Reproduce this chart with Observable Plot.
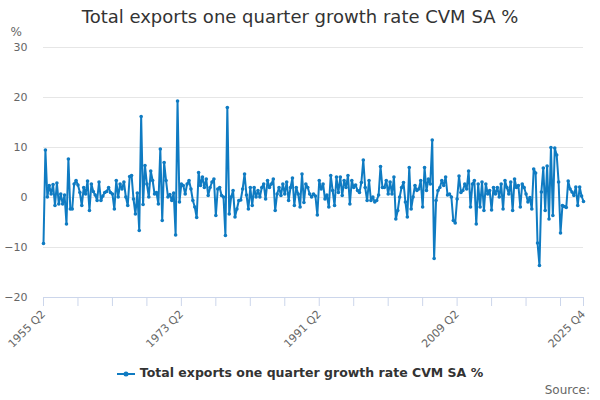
<!DOCTYPE html>
<html>
<head>
<meta charset="utf-8">
<script src="https://cdn.jsdelivr.net/npm/d3@7"></script>
<script src="https://cdn.jsdelivr.net/npm/@observablehq/plot@0.6"></script>
<style>
  html, body { margin: 0; padding: 0; background: #fff; }
  body { width: 600px; height: 400px; overflow: hidden; font-family: "DejaVu Sans", sans-serif; }
  #title { height: 24px; line-height: 24px; padding-top: 5px; text-align: center; font-size: 18px; color: #333; }
  #legend { margin-top: 12px; height: 18px; line-height: 18px; text-align: center; font-size: 12.5px; font-weight: bold; color: #333; }
  #legend svg { vertical-align: middle; margin-right: 5px; }
  #source { height: 16px; line-height: 16px; text-align: right; padding-right: 10px; font-size: 12px; color: #666; }
</style>
</head>
<body>
<div id="title">Total exports one quarter growth rate CVM SA %</div>
<div id="chart"></div>
<div id="legend"></div>
<div id="source">Source:</div>
<script>
const seriesName = "Total exports one quarter growth rate CVM SA %";
const startYear = 1955;
const startQuarter = 2;
// quarterly growth (%), 1955 Q2 ... 2025 Q4
const growth = [
  -9.2, 9.5, 0.1,               // 1955 Q2-Q4
  2.4, 0.7, 2.6, -1.6,          // 1956
  2.9, -1.3, 0.7, -1.3,         // 1957
  0.5, -5.3, 7.7, -2.3,         // 1958
  -2.3, 2.7, 3.4, 2.5,          // 1959
  1.0, -1.6, 2.0, 0.7,          // 1960
  3.3, -2.6, 2.7, 1.2,          // 1961
  0.5, -0.6, 3.1, -0.6,         // 1962
  0.3, 1.0, 1.2, 2.0,           // 1963
  1.0, 0.7, -2.3, 3.4,          // 1964
  0.1, 2.7, 1.7, 3.1,           // 1965
  0.1, -1.6, 4.2, 4.4,          // 1966
  -0.3, -3.3, 0.9, -6.6,        // 1967
  16.2, -1.4, 6.4, 2.7,         // 1968
  0.1, 5.3, 3.4, 0.7,           // 1969
  1.0, -1.3, 9.7, -4.6,         // 1970
  7.0, 3.4, 0.1, 0.6,           // 1971
  -0.6, 0.9, -7.5, 19.3,        // 1972
  -0.9, 2.7, 2.4, 0.7,          // 1973
  2.7, 3.4, 1.7, -0.6,          // 1974
  -1.9, -4.0, 5.0, 2.4,         // 1975
  4.1, 2.0, 3.7, 0.4,           // 1976
  2.0, 3.1, 3.7, -3.6,          // 1977
  1.7, 2.0, 0.4, 0.1,           // 1978
  -7.6, 18.0, -3.3, 0.1,        // 1979
  1.4, -3.9, -2.3, -0.6,        // 1980
  -0.5, 1.7, 4.7, 0.5,          // 1981
  -2.3, 2.0, -1.6, 2.0,         // 1982
  0.1, 1.4, 0.1, 2.0,           // 1983
  2.7, -0.3, 3.4, 2.0,          // 1984
  2.7, 3.7, -2.6, 0.7,          // 1985
  2.0, 0.4, 2.7, 0.7,           // 1986
  3.1, -0.6, 2.0, 3.9,          // 1987
  -1.6, 2.0, 0.7, -1.9,         // 1988
  4.7, -1.0, 2.7, 2.0,          // 1989
  0.7, 0.1, 0.7, 0.3,           // 1990
  -3.5, 3.4, 1.7, 2.7,          // 1991
  -0.3, 0.5, -1.9, 4.4,         // 1992
  1.4, -1.6, 4.1, 1.0,          // 1993
  4.1, 0.4, 3.4, 2.0,           // 1994
  4.4, -1.3, 3.4, 2.0,          // 1995
  2.5, 1.4, 1.0, 3.0,           // 1996
  7.5, 2.0, -0.6, 3.4,          // 1997
  -0.6, 0.1, -0.9, -0.6,        // 1998
  0.5, 6.2, 2.0, 2.0,           // 1999
  3.4, 0.7, 3.1, 0.7,           // 2000
  4.1, -4.3, -2.6, 0.1,         // 2001
  2.0, 3.0, -0.9, -3.9,         // 2002
  6.0, -2.3, 0.1, 2.4,          // 2003
  1.4, 1.7, 3.4, -1.9,          // 2004
  6.0, 1.4, 3.7, 2.7,           // 2005
  11.5, -12.2, -0.6, 1.4,       // 2006
  2.0, 3.4, 2.4, 4.1,           // 2007
  0.5, 0.7, 0.1, -4.6,          // 2008
  -5.1, -0.3, 4.3, 1.0,         // 2009
  1.4, 2.7, 1.7, 5.3,           // 2010
  -1.9, 2.7, 3.4, -5.3,         // 2011
  2.7, -1.9, 3.1, -2.6,         // 2012
  2.7, 0.7, 1.4, -2.5,          // 2013
  2.0, 0.7, 2.0, 0.1,           // 2014
  2.7, -2.3, 3.4, 2.0,          // 2015
  0.7, 3.1, -2.6, 3.7,          // 2016
  2.0, 2.4, -1.9, 2.7,          // 2017
  2.0, 0.7, -0.9, 0.0,          // 2018
  -2.3, 5.7, 4.9, -9.1,         // 2019
  -13.6, 1.1, 5.9, -2.6,        // 2020
  6.3, -4.3, 10.0, -3.6,        // 2021
  9.9, 8.5, 3.1, -7.1,          // 2022
  -1.6, -1.8, -2.0, 3.3,        // 2023
  1.7, 1.1, 0.4, 2.1,           // 2024
  -1.6, 2.1, 0.3, -0.8          // 2025
];
const labelledPeriods = ["1955 Q2", "1973 Q2", "1991 Q2", "2009 Q2", "2025 Q4"];
const yTicks = [-20, -10, 0, 10, 20, 30];
const lineColor = "#0f7bc2";

const periods = growth.map((_, i) => {
  const q = startQuarter - 1 + i;
  return `${startYear + Math.floor(q / 4)} Q${(q % 4) + 1}`;
});
const data = growth.map((v, i) => ({ i, period: periods[i], value: v }));
const last = growth.length - 1;
const xTicks = data.filter(d => d.i % 18 === 0 || d.i === last).map(d => d.i);

const chart = Plot.plot({
  width: 600,
  height: 323,
  marginLeft: 43,
  marginRight: 17,
  marginTop: 18,
  marginBottom: 55,
  style: { fontFamily: "DejaVu Sans", overflow: "visible", background: "white" },
  x: { domain: [0, last] },
  y: { domain: [-20, 30] },
  marks: [
    Plot.gridY(yTicks.filter(t => t > -20), { stroke: "#e6e6e6", strokeOpacity: 1 }),
    Plot.ruleY([-20], { stroke: "#ccd6eb" }),
    Plot.axisY({ ticks: yTicks, tickSize: 0, tickPadding: 16, fill: "#666", fontSize: 11, label: null }),
    Plot.axisX({
      ticks: xTicks, tickSize: 9, stroke: "#ccd6eb", tickRotate: -45,
      tickFormat: i => labelledPeriods.includes(periods[i]) ? periods[i] : "",
      fill: "#666", fontSize: 11, label: null
    }),
    Plot.text(["%"], { frameAnchor: "top-left", dx: -33, dy: -15, textAnchor: "start", lineAnchor: "middle", fill: "#666", fontSize: 12 }),
    Plot.line(data, { x: "i", y: "value", stroke: lineColor, strokeWidth: 2 }),
    Plot.dot(data, { x: "i", y: "value", r: 1.8, fill: lineColor, stroke: null })
  ]
});
document.getElementById("chart").appendChild(chart);

document.getElementById("legend").innerHTML =
  `<svg width="18" height="10"><line x1="0" y1="5" x2="18" y2="5" stroke="${lineColor}" stroke-width="2"/><circle cx="9" cy="5" r="2.5" fill="${lineColor}"/></svg>` +
  seriesName;
</script>
</body>
</html>
